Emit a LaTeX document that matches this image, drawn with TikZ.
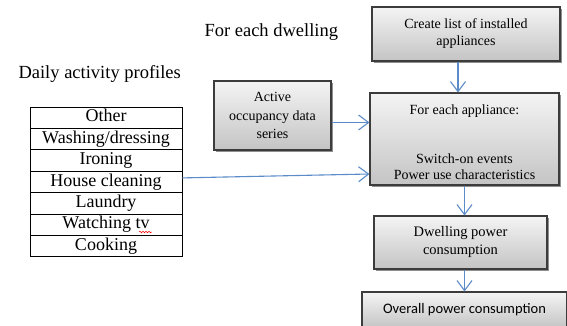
\documentclass[tikz,border=0pt]{standalone}
\usepackage{fontspec}
\setmainfont{Liberation Serif}
\newfontfamily\calibri{Carlito}
\usetikzlibrary{arrows.meta,shadows,decorations.pathmorphing}

\definecolor{flowblue}{RGB}{91,139,200}
\definecolor{boxtop}{RGB}{244,244,244}
\definecolor{boxbot}{RGB}{196,196,196}
\definecolor{boxline}{RGB}{60,60,60}

\tikzset{
  stepbox/.style={draw=boxline, line width=1.1pt, top color=boxtop, bottom color=boxbot,
    drop shadow={shadow xshift=2pt, shadow yshift=-2pt, fill=black!55, opacity=0.8},
    align=center, inner sep=0pt, font=\fontsize{14}{17}\selectfont},
  row/.style={draw, line width=0.9pt, minimum width=152pt, minimum height=21.4pt,
    inner sep=0pt, text height=12pt, text depth=3.5pt, font=\fontsize{18}{20}\selectfont},
  flow/.style={draw=flowblue, line width=1.1pt, -{Straight Barb[length=10pt,width=15pt]}},
}

\begin{document}
\begin{tikzpicture}[x=1pt,y=-1pt]
\useasboundingbox (0,0) rectangle (567,326);

% headings
\node[anchor=base west, font=\fontsize{18.5}{20}\selectfont] (dwellhead) at (201,37) {For each dwelling};
\node[anchor=base west, font=\fontsize{18.5}{20}\selectfont] (profhead) at (15,79) {Daily activity profiles};

% activity table
\foreach \name [count=\i] in {Other,Washing/dressing,Ironing,House cleaning,Laundry,Watching tv,Cooking}
  \node[row] (r\i) at (106,96.3+21.4*\i) {\name};
\draw[red, line width=0.5pt, decorate, decoration={snake, amplitude=0.8pt, segment length=3pt}] (139,232) -- (152,232);

% process boxes
\node[stepbox, minimum width=188pt, minimum height=54pt] (list) at (466,34) {Create list of installed\\appliances};
\node[stepbox, minimum width=117pt, minimum height=69pt] (occ) at (272.5,115.5) {Active\\[1.5pt]occupancy data\\[1.5pt]series};
\node[stepbox, minimum width=189pt, minimum height=92pt, font=\fontsize{14}{16}\selectfont] (appl) at (464.5,139) {\rule{0pt}{16pt}For each appliance:\\[33pt]Switch-on events\\Power use characteristics};
\node[stepbox, minimum width=173pt, minimum height=53pt, font=\fontsize{14.5}{18}\selectfont] (dwell) at (460.5,242.5) {Dwelling power\\consumption};
\node[stepbox, minimum width=205pt, minimum height=36pt, font=\calibri\fontsize{14.5}{17}\selectfont] (total) at (464.5,310) {Overall power consumption};

% arrows
\coordinate (occout) at ([yshift=-7pt]occ.east);
\coordinate (tabout) at ([yshift=4pt]r4.east);
\coordinate (applin) at ([yshift=-35pt]appl.west);
\draw[flow] ([xshift=-8pt]list.south) -- ([xshift=-8pt]list.south |- appl.north);
\draw[flow] (occout) -- (occout -| appl.west);
\draw[flow] (tabout) -- (applin);
\draw[flow] (appl.south) -- (appl.south |- dwell.north);
\draw[flow] (total.north |- dwell.south) -- (total.north);
\end{tikzpicture}
\end{document}
